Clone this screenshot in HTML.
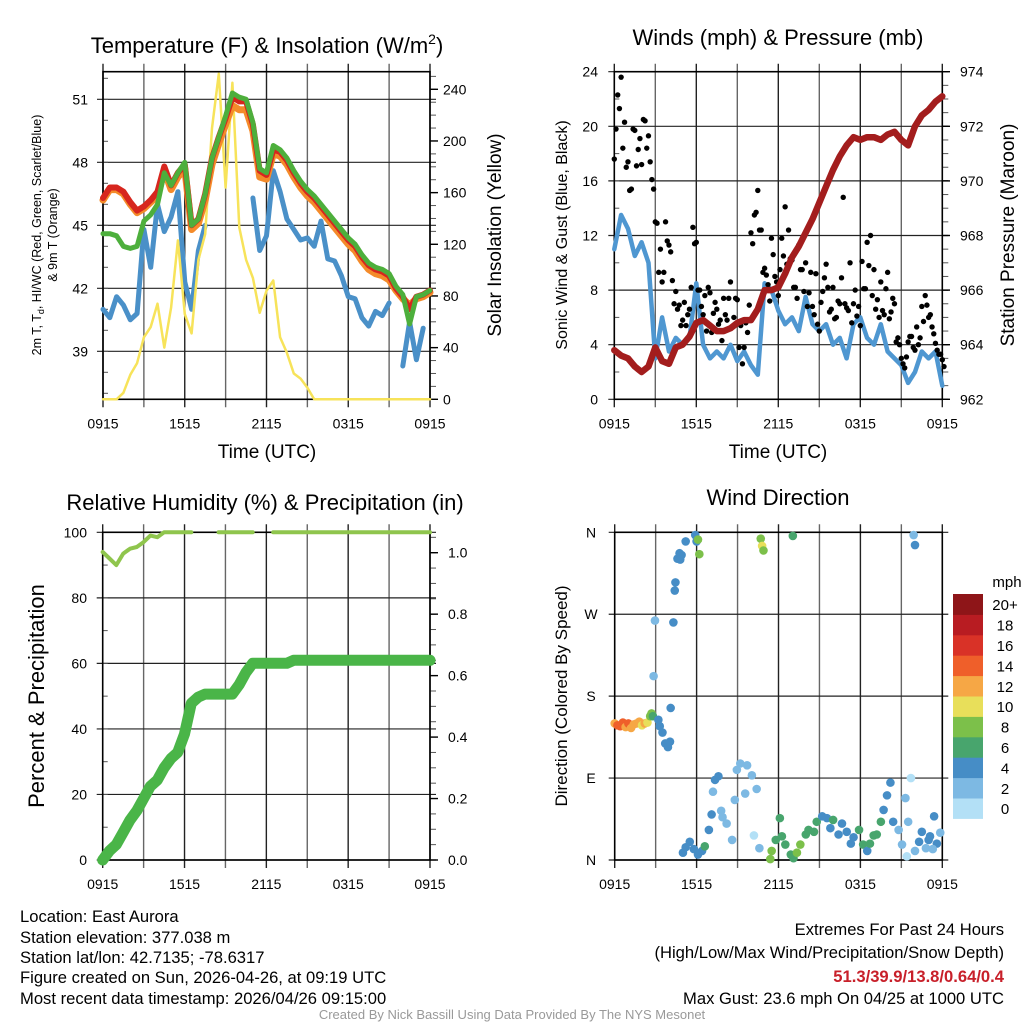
<!DOCTYPE html>
<html><head><meta charset="utf-8"><style>
html,body{margin:0;padding:0;background:#fff;}
svg{display:block;font-family:"Liberation Sans",sans-serif;}
</style></head><body>
<svg id="fig" width="1024" height="1024" viewBox="0 0 1024 1024" xmlns="http://www.w3.org/2000/svg">
<text x="267" y="53" font-size="22" text-anchor="middle">Temperature (F) &amp; Insolation (W/m<tspan font-size="14" dy="-9">2</tspan><tspan dy="9">)</tspan></text>
<text x="778" y="45" font-size="22" text-anchor="middle">Winds (mph) &amp; Pressure (mb)</text>
<text x="265" y="510" font-size="22" text-anchor="middle">Relative Humidity (%) &amp; Precipitation (in)</text>
<text x="778" y="505" font-size="22" text-anchor="middle">Wind Direction</text>
<text x="267" y="458" font-size="19" text-anchor="middle">Time (UTC)</text>
<text x="778" y="458" font-size="19" text-anchor="middle">Time (UTC)</text>
<text transform="translate(41,235) rotate(-90)" font-size="12.5" text-anchor="middle">2m T, T<tspan font-size="9" dy="3">d</tspan><tspan dy="-3">, HI/WC (Red, Green, Scarlet/Blue)</tspan></text>
<text transform="translate(57,235) rotate(-90)" font-size="12.5" text-anchor="middle">&amp; 9m T (Orange)</text>
<text transform="translate(501,235) rotate(-90)" font-size="19" text-anchor="middle">Solar Insolation (Yellow)</text>
<text transform="translate(567,235) rotate(-90)" font-size="16" text-anchor="middle">Sonic Wind &amp; Gust (Blue, Black)</text>
<text transform="translate(1014,235) rotate(-90)" font-size="19" text-anchor="middle">Station Pressure (Maroon)</text>
<text transform="translate(44,696) rotate(-90)" font-size="22" text-anchor="middle">Percent &amp; Precipitation</text>
<text transform="translate(567,696) rotate(-90)" font-size="17" text-anchor="middle">Direction (Colored By Speed)</text>
<g font-size="16.6">
<text x="20" y="922">Location: East Aurora</text>
<text x="20" y="943">Station elevation: 377.038 m</text>
<text x="20" y="963">Station lat/lon: 42.7135; -78.6317</text>
<text x="20" y="983">Figure created on Sun, 2026-04-26, at 09:19 UTC</text>
<text x="20" y="1004">Most recent data timestamp: 2026/04/26 09:15:00</text>
</g>
<g font-size="16.6" text-anchor="end">
<text x="1004" y="935">Extremes For Past 24 Hours</text>
<text x="1004" y="958">(High/Low/Max Wind/Precipitation/Snow Depth)</text>
<text x="1004" y="982" fill="#c8202a" font-weight="bold">51.3/39.9/13.8/0.64/0.4</text>
<text x="1004" y="1004">Max Gust: 23.6 mph On 04/25 at 1000 UTC</text>
</g>
<text x="512" y="1019" font-size="13" fill="#999" text-anchor="middle">Created By Nick Bassill Using Data Provided By The NYS Mesonet</text>
</svg>
<script>
// ---- data (30-min steps, 0915 -> 0915 UTC) ----
const timeTicks = ["0915","1515","2115","0315","0915"];
const tempRed = [46.3,46.8,46.8,46.6,46.1,45.7,45.9,46.2,46.6,47.8,46.9,47.5,47.9,45.0,45.3,46.5,48.2,49.2,50.1,51.1,50.9,50.9,49.8,47.6,47.4,48.6,48.5,48.1,47.5,47.0,46.6,46.3,45.9,45.5,45.1,44.7,44.3,44.0,43.5,43.1,42.9,42.8,42.6,42.0,41.6,41.0,41.6,41.7,41.9];
const tempOrange = [46.2,46.7,46.7,46.5,46.0,45.6,45.8,46.1,46.4,47.6,46.7,47.3,47.7,44.8,45.1,46.2,47.9,48.9,49.8,50.7,50.5,50.5,49.5,47.3,47.2,48.4,48.3,47.9,47.3,46.8,46.4,46.1,45.7,45.3,44.9,44.5,44.1,43.8,43.3,42.9,42.7,42.6,42.4,41.9,41.5,41.2,41.5,41.6,41.8];
const tempGreen = [44.6,44.6,44.5,44.0,43.9,44.0,45.2,45.5,46.0,47.5,46.9,47.5,48.0,45.0,45.3,46.5,48.2,49.2,50.2,51.3,51.1,51.0,49.9,47.7,47.5,48.8,48.6,48.2,47.6,47.1,46.7,46.4,46.0,45.6,45.2,44.8,44.4,44.1,43.6,43.2,43.0,42.9,42.7,42.1,41.7,40.3,41.6,41.7,41.9];
const tempBlue = [41.0,40.6,41.6,41.2,40.5,40.8,44.8,43.0,46.0,44.7,45.4,46.6,42.3,41.0,43.8,45.0,null,null,null,null,null,null,46.3,43.8,44.5,47.6,46.6,45.3,44.8,44.3,44.4,44.0,45.2,43.4,43.3,42.6,41.6,41.5,40.6,40.2,40.9,40.7,41.3,null,38.3,40.4,38.6,40.1,null];
const insolation = [0,0,0,5,19,28,48,56,74,40,71,123,66,51,108,128,210,252,164,245,133,108,94,67,84,92,48,36,20,16,9,0,0,0,0,0,0,0,0,0,0,0,0,0,0,0,0,0,0];
const windSpeed = [11,13.5,12.5,10.5,11.5,10,3,6,3.5,4.5,4,4.5,8.5,4,3,3.5,3,4,2.8,3.5,2.5,1.8,8.5,8,6.5,5.5,6,5,7.5,5.5,5,5.5,4,4.5,3,5.5,6,4.5,4,5.5,3.5,3,2.5,1.2,2,3.5,3,3.5,1];
const pressure = [963.8,963.6,963.5,963.2,963.0,963.2,963.9,963.4,963.3,963.9,964.0,964.3,964.8,964.9,964.7,964.5,964.5,964.6,964.8,964.9,964.9,965.3,966.0,966.0,966.1,966.6,967.2,967.6,968.1,968.6,969.2,969.8,970.4,970.9,971.3,971.6,971.5,971.6,971.6,971.5,971.7,971.8,971.5,971.3,972.0,972.4,972.6,972.9,973.1];
// gusts, 15-min steps
const gusts = [17.6,22.3,23.6,20.3,17.4,15.4,19.7,18.3,17.2,20.4,19.3,16.1,13.0,9.3,8.6,13.0,11.3,8.7,7.9,6.9,5.8,5.4,6.6,12.6,11.5,8.0,6.2,5.0,7.8,6.3,6.6,5.8,7.4,5.8,8.6,6.0,7.3,5.4,3.8,4.9,12.2,13.5,15.3,12.4,9.6,8.4,11.8,9.0,7.6,11.8,14.1,12.4,10.2,8.2,11.3,9.5,10.0,7.8,6.8,9.2,5.0,7.9,9.9,6.4,8.2,6.0,7.0,14.8,6.7,10.0,7.0,6.1,5.4,8.1,11.5,12.0,9.5,7.3,8.6,6.2,9.3,6.4,7.0,4.5,3.0,2.3,4.2,4.6,3.6,4.0,6.8,7.6,6.0,5.3,4.1,3.3,2.9];
const gusts2 = [19.8,21.3,18.4,17.0,15.3,19.8,17.1,19.1,20.5,18.4,17.4,15.4,12.9,11.0,9.3,11.6,10.8,7.0,6.6,5.4,7.1,6.2,8.2,11.4,8.0,6.8,7.6,8.2,4.9,7.1,5.5,4.3,6.2,7.4,5.3,7.4,3.8,2.6,5.6,6.9,11.4,13.7,12.4,9.3,9.1,7.2,10.6,8.6,9.5,10.5,9.9,10.3,8.2,7.4,9.5,7.9,6.8,9.3,6.2,5.5,7.1,8.9,8.2,6.6,5.9,7.2,8.9,7.0,6.5,5.6,8.0,6.8,10.1,8.1,9.8,7.6,6.6,6.0,6.5,8.1,5.9,7.4,4.2,4.0,2.6,3.1,4.6,3.8,5.3,4.5,5.7,6.9,6.2,4.8,3.6,3.3,2.4];
const rh = [94,92,90,93.5,95,95.5,97,99,98.5,100,100,100,100,100,null,null,null,100,100,100,100,100,100,null,null,100,100,100,100,100,100,100,100,100,100,100,100,100,100,100,100,100,100,100,100,100,100,100,100];
const precip = [0,0.03,0.05,0.09,0.13,0.16,0.2,0.24,0.26,0.3,0.33,0.35,0.41,0.51,0.53,0.54,0.54,0.54,0.54,0.54,0.57,0.61,0.64,0.64,0.64,0.64,0.64,0.64,0.65,0.65,0.65,0.65,0.65,0.65,0.65,0.65,0.65,0.65,0.65,0.65,0.65,0.65,0.65,0.65,0.65,0.65,0.65,0.65,0.65];
// wind direction observations
const dirHours = [0,0.2,0.4,0.6,0.8,1.0,1.2,1.4,1.6,1.8,2.0,2.2,2.4,2.6,2.7,2.8,3.2,3.3,3.5,3.7,3.9,4.05,4.1,2.85,2.95,4.3,4.4,4.45,4.6,4.75,4.9,5.2,5.9,6.0,6.2,6.1,4.8,5.0,5.2,5.5,5.8,6.1,6.4,6.6,6.9,7.1,7.35,7.6,7.2,7.8,8.2,8.6,7.9,8.8,8.95,9.2,9.7,10.05,10.4,9.56,10.2,10.6,10.7,10.8,10.9,13.05,11.4,11.5,11.8,12.1,12.25,12.5,12.9,13.1,13.35,13.6,14.0,14.2,14.6,14.8,15.2,15.55,15.8,16.0,16.4,16.65,17.0,17.3,17.5,17.9,18.2,18.5,18.7,18.97,19.2,19.5,19.7,19.95,20.2,20.4,20.8,21.05,21.3,21.7,21.5,21.9,22.0,22.0,22.5,22.8,23.1,23.4,23.6,23.85,21.4,22.3,23.0,23.3];
const dirDeg = [150,148,147,151,146,150,145,149,150,152,148,150,151,158,161,158,154,147,140,128,124,130,167,202,263,261,296,305,331,337,335,350,357,350,336,352,330,8,14,20,12,6,10,15,33,50,88,92,75,54,40,22,47,66,99,106,104,93,78,73,27,13,353,345,340,356,1,10,22,46,26,17,6,2,8,17,28,33,31,42,48,46,35,44,28,40,31,18,25,33,17,10,18,27,28,42,55,71,85,42,33,17,68,90,42,357,346,10,31,13,26,48,18,30,4,20,22,12];
const dirSpeed = [11,14,14,13,12,13,12,11,12,11,10,12,10,8,7,6,4,4,4,4,4,4,4,2,2,4,4,4,4,4,4,4,4,4,8,8,4,4,4,4,4,4,4,6,4,4,4,4,2,2,2,2,2,2,2,2,2,2,2,2,0,2,8,10,8,6,8,8,6,6,6,6,6,6,8,8,6,6,6,6,4,4,4,6,4,4,4,4,4,6,6,4,6,6,6,6,4,4,4,4,2,2,2,0,2,2,4,2,4,2,4,4,4,2,0,4,4,2];
const speedLevels = ["0","2","4","6","8","10","12","14","16","18","20+"];
const speedColors = ["#b3e0f6","#7db9e3","#468dc6","#48a56d","#7cc04a","#e8df5a","#f6a745","#ef5f2a","#d93227","#b81c22","#8e1518"];

const NS="http://www.w3.org/2000/svg";
const svg=document.getElementById('fig');
function mk(tag,attrs,parent){const e=document.createElementNS(NS,tag);for(const k in attrs)e.setAttribute(k,attrs[k]);(parent||svg).appendChild(e);return e;}
function txt(x,y,s,size,anchor,parent){const t=mk('text',{x:x,y:y,'font-size':size,'text-anchor':anchor},parent);t.textContent=s;return t;}

function panel(x0,x1,y0,y1){return {x0,x1,y0,y1,x:h=>x0+(x1-x0)*h/24};}
const P1=panel(103,430,71.7,399.3), P2=panel(614.3,942.3,71.7,399.3), P3=panel(102.7,430,532.3,860), P4=panel(614.7,942.3,532.3,860);
const yTemp=v=>99.3+(51-v)*21;
const yIns=v=>399.3-v*310/240;
const yWind=v=>399.3-v*(327.6/24);
const yPres=v=>399.3-(v-962)*(327.6/12);
const yRH=v=>860-v*3.277;
const yPrec=v=>860-v*307.3;
const yDir=v=>860-v*(327.7/360);

function frame(P,name,hlines,minorL,minorR){
  const g=mk('g',{});
  
  
  for(let i=0;i<=8;i++){const x=P.x(i*3);const l=mk('line',{x1:x,x2:x,y1:P.y0-8,y2:P.y1+8,stroke:i%2?'#666':'#222','stroke-width':1.4},g);
    
    }
  hlines.forEach(y=>{const l=mk('line',{x1:P.x0-6,x2:P.x1+6,y1:y,y2:y,stroke:'#222','stroke-width':1.2},g);
    
    });
  (minorL||[]).forEach(y=>mk('line',{x1:P.x0,x2:P.x0+5,y1:y,y2:y,stroke:'#555','stroke-width':1},g));
  (minorR||[]).forEach(y=>mk('line',{x1:P.x1,x2:P.x1+6,y1:y,y2:y,stroke:'#555','stroke-width':1},g));
  mk('rect',{x:P.x0,y:P.y0,width:P.x1-P.x0,height:P.y1-P.y0,fill:'none',stroke:'#000','stroke-width':1.6},g);
  timeTicks.forEach((t,i)=>{const e=txt(P.x(i*6),P.y1+29,t,14,'middle',g);
    
    });
  return g;
}
function pathFrom(vals,step,P,yf){let d='',pen=false;vals.forEach((v,i)=>{if(v===null){pen=false;return;}d+=(pen?'L':'M')+P.x(i*step).toFixed(1)+','+yf(v).toFixed(1);pen=true;});return d;}
function series(vals,step,P,yf,color,w,name){const p=mk('path',{d:pathFrom(vals,step,P,yf),fill:'none',stroke:color,'stroke-width':w,'stroke-linejoin':'round','stroke-linecap':'round'});
  
  
  return p;}

// ---- Panel 1 ----
const t1=[39,42,45,48,51];
const m1=[];for(let v=37;v<=52;v++)m1.push(yTemp(v));
const mr1=[];for(let v=0;v<=250;v+=10)mr1.push(yIns(v));
frame(P1,'temp',t1.map(yTemp),m1,mr1);
t1.forEach(v=>{const e=txt(88,yTemp(v)+5,String(v),14,'end');
  
  });
[0,40,80,120,160,200,240].forEach(v=>{mk('line',{x1:430,x2:438,y1:yIns(v),y2:yIns(v),stroke:'#000','stroke-width':1.4});
  const e=txt(443,yIns(v)+5,String(v),14,'start');
  
  });
series(tempBlue,0.5,P1,yTemp,'#4a90c8',5,'series-blue-temp');
series(insolation,0.5,P1,yIns,'#f7e35a',2.5,'series-insolation');
series(tempOrange,0.5,P1,yTemp,'#f48b2a',7,'series-9m-temp');
series(tempRed,0.5,P1,yTemp,'#d7261e',6,'series-2m-temp');
series(tempGreen,0.5,P1,yTemp,'#4daf3c',5,'series-hiwc');

// ---- Panel 2 ----
const t2=[0,4,8,12,16,20,24];
const m2=[];for(let v=0;v<=24;v+=2)m2.push(yWind(v));
const mr2=[];for(let v=962;v<=974;v+=0.5)mr2.push(yPres(v));
frame(P2,'wind',t2.map(yWind),m2,mr2);
t2.forEach(v=>{const e=txt(598,yWind(v)+5,String(v),14,'end');
  
  });
[962,964,966,968,970,972,974].forEach(v=>{mk('line',{x1:942,x2:950,y1:yPres(v),y2:yPres(v),stroke:'#000','stroke-width':1.4});
  const e=txt(960,yPres(v)+5,String(v),14,'start');
  
  });
series(windSpeed,0.5,P2,yWind,'#4f97d1',4.5,'series-wind-speed');
[gusts,gusts2].forEach((arr,k)=>arr.forEach((v,i)=>{const c=mk('circle',{cx:P2.x(i*0.25+k*0.125),cy:yWind(v),r:2.7,fill:'#000'});
  
  }));
series(pressure,0.5,P2,yPres,'#a31d1d',6.5,'series-pressure');

// ---- Panel 3 ----
const t3=[0,20,40,60,80,100];
const m3=[];for(let v=0;v<=100;v+=10)m3.push(yRH(v));
const mr3=[];for(let v=0;v<=1.06;v+=0.05)mr3.push(yPrec(v));
frame(P3,'rh',t3.map(yRH),m3,mr3);
t3.forEach(v=>{const e=txt(87,yRH(v)+5,String(v),14,'end');
  
  });
["0.0","0.2","0.4","0.6","0.8","1.0"].forEach(s=>{const v=parseFloat(s);mk('line',{x1:430,x2:438,y1:yPrec(v),y2:yPrec(v),stroke:'#000','stroke-width':1.4});
  const e=txt(448,yPrec(v)+5,s,14,'start');
  
  });
series(rh,0.5,P3,yRH,'#8fc54d',4,'series-rh');
series(precip,0.5,P3,yPrec,'#4ab548',11,'series-precip');

// ---- Panel 4 ----
const dirTicks=["N","E","S","W","N"];
frame(P4,'direction',[0,90,180,270,360].map(yDir),[],[]);
dirTicks.forEach((s,i)=>{const e=txt(591,yDir(i*90)+5,s,14,'middle');
  
  });
dirHours.forEach((h,i)=>{const idx=Math.min(10,Math.round(dirSpeed[i]/2));const c=mk('circle',{cx:P4.x(h),cy:yDir(dirDeg[i]),r:4.3,fill:speedColors[idx]});
  
  });
const cb=mk('g',{});


const cbTop=594,cbH=20.4;
speedLevels.forEach((s,i)=>{const y=cbTop+(10-i)*cbH;mk('rect',{x:953,y:y,width:30,height:cbH+0.5,fill:speedColors[i]},cb);
  const e=txt(1005,y+cbH/2+6,s,15,'middle',cb);
  
  });
const mph=txt(1007,587,'mph',15,'middle',cb);


</script>
</body></html>
